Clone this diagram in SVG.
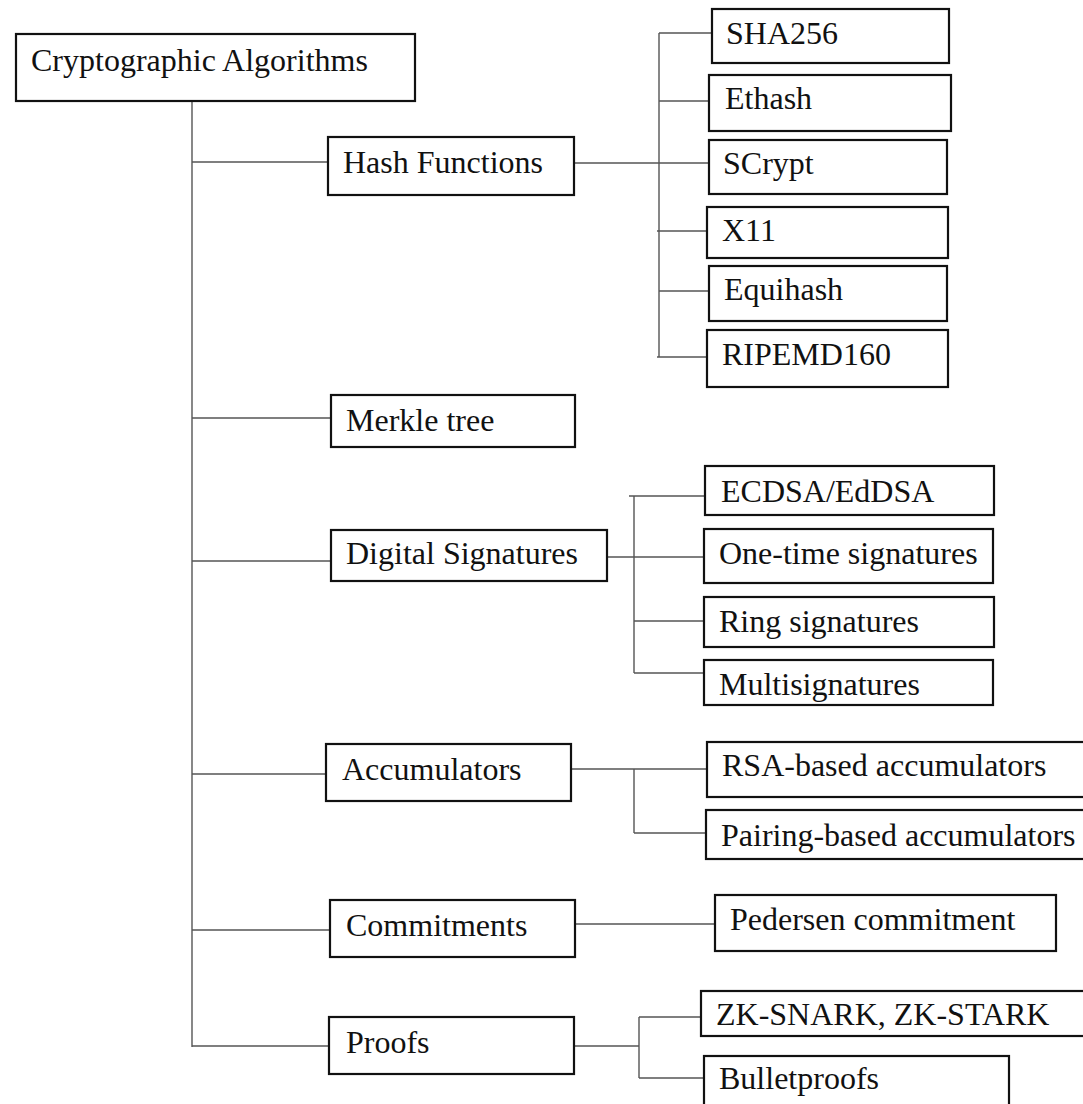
<svg xmlns="http://www.w3.org/2000/svg" width="1083" height="1104" viewBox="0 0 1083 1104">
<style>
.box{fill:#fff;stroke:#111;stroke-width:2.2}
.lbl{font-family:"Liberation Serif","Times New Roman",serif;font-size:32px;fill:#111}
.con{stroke:#555;stroke-width:1.4;fill:none}
</style>
<rect width="1083" height="1104" fill="#fff"/>
<g id="connectors">
<path class="con" d="M192,101 V1047"/>
<path class="con" d="M192,162 H328 M192,418 H331 M192,561 H331 M192,774 H326 M192,930 H330 M192,1046 H329"/>
<path class="con" d="M574,163 H709 M659,33 V357 M659,33 H712 M659,101 H709 M657,231 H707 M659,291 H709 M657,357 H707"/>
<path class="con" d="M607,557 H704 M634,496 V673 M629,496 H705 M634,621 H704 M634,673 H704"/>
<path class="con" d="M571,769 H707 M634,769 V833 M634,833 H706"/>
<path class="con" d="M575,924 H715"/>
<path class="con" d="M574,1046 H639 M639,1017 V1078 M639,1017 H701 M639,1078 H704"/>
</g>
<g id="root"><rect class="box" x="16" y="34" width="399" height="67"/><text class="lbl" x="31" y="71">Cryptographic Algorithms</text></g>
<g id="hash"><rect class="box" x="328" y="137" width="246" height="58"/><text class="lbl" x="343" y="173">Hash Functions</text></g>
<g id="merkle"><rect class="box" x="331" y="395" width="244" height="52"/><text class="lbl" x="346" y="431">Merkle tree</text></g>
<g id="digsig"><rect class="box" x="331" y="530" width="276" height="51"/><text class="lbl" x="346" y="564">Digital Signatures</text></g>
<g id="accum"><rect class="box" x="326" y="744" width="245" height="57"/><text class="lbl" x="342" y="780">Accumulators</text></g>
<g id="commit"><rect class="box" x="330" y="900" width="245" height="57"/><text class="lbl" x="346" y="936">Commitments</text></g>
<g id="proofs"><rect class="box" x="329" y="1017" width="245" height="57"/><text class="lbl" x="346" y="1053">Proofs</text></g>
<g id="sha256"><rect class="box" x="712" y="9" width="237" height="54"/><text class="lbl" x="726" y="44">SHA256</text></g>
<g id="ethash"><rect class="box" x="709" y="75" width="242" height="56"/><text class="lbl" x="725" y="109">Ethash</text></g>
<g id="scrypt"><rect class="box" x="709" y="140" width="238" height="54"/><text class="lbl" x="723" y="174">SCrypt</text></g>
<g id="x11"><rect class="box" x="707" y="207" width="241" height="51"/><text class="lbl" x="722" y="241">X11</text></g>
<g id="equihash"><rect class="box" x="709" y="266" width="238" height="55"/><text class="lbl" x="724" y="300">Equihash</text></g>
<g id="ripemd160"><rect class="box" x="707" y="330" width="241" height="57"/><text class="lbl" x="722" y="365">RIPEMD160</text></g>
<g id="ecdsa"><rect class="box" x="705" y="466" width="289" height="49"/><text class="lbl" x="721" y="502">ECDSA/EdDSA</text></g>
<g id="onetime"><rect class="box" x="704" y="529" width="289" height="54"/><text class="lbl" x="719" y="564">One-time signatures</text></g>
<g id="ring"><rect class="box" x="704" y="597" width="290" height="50"/><text class="lbl" x="719" y="632">Ring signatures</text></g>
<g id="multisig"><rect class="box" x="704" y="660" width="289" height="45"/><text class="lbl" x="719" y="695">Multisignatures</text></g>
<g id="rsa"><rect class="box" x="707" y="742" width="380" height="55"/><text class="lbl" x="722" y="776">RSA-based accumulators</text></g>
<g id="pairing"><rect class="box" x="706" y="810" width="380" height="49"/><text class="lbl" x="721" y="846">Pairing-based accumulators</text></g>
<g id="pedersen"><rect class="box" x="715" y="895" width="341" height="56"/><text class="lbl" x="730" y="930">Pedersen commitment</text></g>
<g id="zk"><rect class="box" x="701" y="991" width="385" height="45"/><text class="lbl" x="716" y="1025">ZK-SNARK, ZK-STARK</text></g>
<g id="bulletproofs"><rect class="box" x="704" y="1056" width="305" height="60"/><text class="lbl" x="719" y="1089">Bulletproofs</text></g>
</svg>
